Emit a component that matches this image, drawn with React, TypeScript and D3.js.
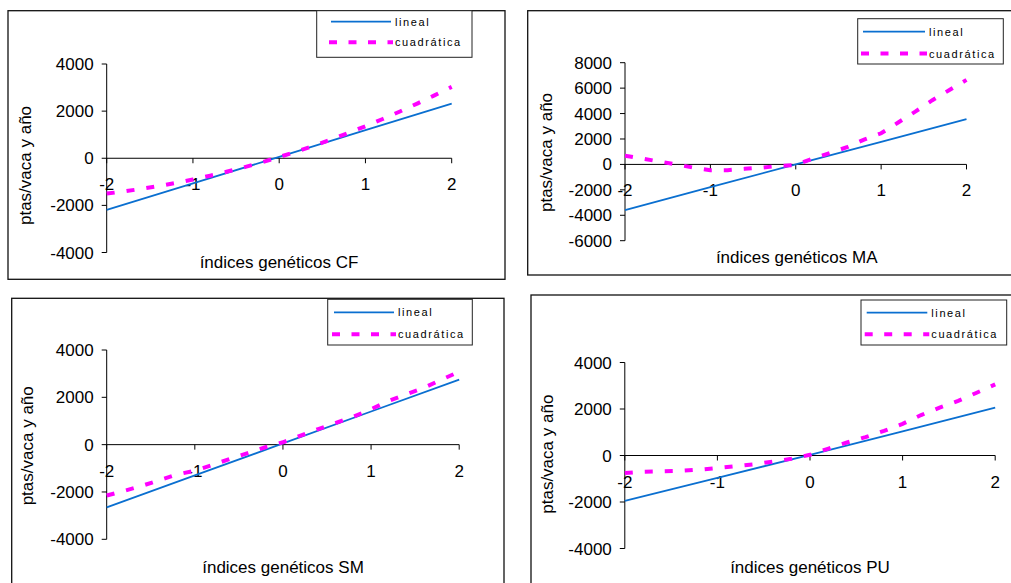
import React from 'react'
import * as d3 from 'd3'

// x positions of the two series
const xsLinear = [-2, -1, 0, 1, 2]
const xsQuad = [-2, -1.8, -1.6, -1.4, -1.2, -1, -0.8, -0.6, -0.4, -0.2, 0, 0.2, 0.4, 0.6, 0.8, 1, 1.2, 1.4, 1.6, 1.8, 2]

// CF
const cfLinear = [-2190, -1065, 60, 1190, 2320]
const cfQuad = [-1500, -1410, -1300, -1185, -1050, -900, -740, -565, -375, -170, 50, 285, 530, 795, 1070, 1360, 1665, 1985, 2320, 2670, 3030]
// MA
const maLinear = [-3600, -1790, 0, 1780, 3560]
const maQuad = [680, 460, 230, 0, -250, -450, -450, -350, -250, -120, -40, 450, 900, 1350, 1950, 2450, 3300, 4150, 5050, 5850, 6650]
// SM
const smLinear = [-2650, -1300, 50, 1400, 2750]
const smQuad = [-2150, -1950, -1740, -1500, -1260, -1100, -860, -600, -360, -110, 100, 380, 660, 920, 1180, 1500, 1850, 2130, 2400, 2750, 3080]
// PU
const puLinear = [-1950, -960, 30, 1040, 2060]
const puQuad = [-750, -700, -680, -660, -610, -540, -460, -380, -260, -140, 30, 300, 560, 790, 1060, 1360, 1740, 2060, 2350, 2700, 3060]

const xTicks = [-2, -1, 0, 1, 2]
const yTicksSmall = [-4000, -2000, 0, 2000, 4000]
const yTicksMA = [-6000, -4000, -2000, 0, 2000, 4000, 6000, 8000]
const legendNames = ['lineal', 'cuadrática']
const yTitle = 'ptas/vaca y año'

const FONT = '"Liberation Sans", Arial, sans-serif'
const BLUE = '#0a6fd0'
const MAGENTA = '#ff00ff'

const panels = [
  {
    title: 'índices genéticos CF', lin: cfLinear, quad: cfQuad, yDomain: [-4000, 4000], yTicks: yTicksSmall,
    frame: [8, 10.7, 505, 279.3], xr: [106.7, 451.7], yr: [252.5, 64],
    legend: [316.7, 10.7, 472, 57.3], legY: [21.7, 42.3], legX: [331, 391],
    xLab: [279, 268], yLab: [25, 165.5]
  },
  {
    title: 'índices genéticos MA', lin: maLinear, quad: maQuad, yDomain: [-6000, 8000], yTicks: yTicksMA,
    frame: [527.7, 10.7, 1020, 275], xr: [625, 966.5], yr: [240.7, 62.7],
    legend: [857.7, 18.7, 1003.3, 64], legY: [31.7, 53.5], legX: [863, 925],
    xLab: [796.7, 263], yLab: [545.7, 152.5]
  },
  {
    title: 'índices genéticos SM', lin: smLinear, quad: smQuad, yDomain: [-4000, 4000], yTicks: yTicksSmall,
    frame: [11.7, 298.3, 504, 600], xr: [106.7, 459.2], yr: [539.3, 350],
    legend: [327.7, 299.3, 472.3, 345], legY: [312.3, 334.3], legX: [334, 394],
    xLab: [283, 573.3], yLab: [26.7, 445.8]
  },
  {
    title: 'índices genéticos PU', lin: puLinear, quad: puQuad, yDomain: [-4000, 4000], yTicks: yTicksSmall,
    frame: [531, 295, 1020, 600], xr: [624.8, 995.2], yr: [548.5, 362.5],
    legend: [861, 300, 1006.7, 345], legY: [312.7, 334.3], legX: [866.7, 927.3],
    xLab: [810, 572.7], yLab: [546.7, 454.2]
  }
]

function Panel ({ p }: { p: any }) {
  const x = d3.scaleLinear().domain([-2, 2]).range(p.xr)
  const y = d3.scaleLinear().domain(p.yDomain).range(p.yr)
  const line = d3.line<[number, number]>().x(d => x(d[0])).y(d => y(d[1]))
  const linPts = xsLinear.map((v, i) => [v, p.lin[i]] as [number, number])
  const quadPts = xsQuad.map((v, i) => [v, p.quad[i]] as [number, number])
  const [fx0, fy0, fx1, fy1] = p.frame
  const [lx0, ly0, lx1, ly1] = p.legend
  const y0 = y(0)
  return <g>
    <rect x={fx0} y={fy0} width={fx1 - fx0} height={fy1 - fy0} fill='#fff' stroke='#111' strokeWidth={1.3} />
    {/* y axis */}
    <line x1={x(-2)} x2={x(-2)} y1={y(p.yDomain[0])} y2={y(p.yDomain[1])} stroke='#000' />
    {p.yTicks.map((v: number) => <g key={v} transform={`translate(${x(-2)},${y(v)})`}>
      <line x1={-5} x2={0} y1={0} y2={0} stroke='#000' />
      <text x={-13} y={6} textAnchor='end' fontSize={17} fontFamily={FONT} fill='#000'>{v}</text>
    </g>)}
    {/* x axis */}
    <line x1={x(-2)} x2={x(2)} y1={y0} y2={y0} stroke='#000' />
    {xTicks.map(v => <g key={v} transform={`translate(${x(v)},${y0})`}>
      <line x1={0} x2={0} y1={0} y2={5} stroke='#000' />
      <text x={0} y={32} textAnchor='middle' fontSize={17} fontFamily={FONT} fill='#000'>{v}</text>
    </g>)}
    <path d={line(linPts) || ''} fill='none' stroke={BLUE} strokeWidth={1.8} />
    <path d={line(quadPts) || ''} fill='none' stroke={MAGENTA} strokeWidth={4} strokeDasharray='8,12' />
    <text x={p.xLab[0]} y={p.xLab[1]} textAnchor='middle' fontSize={17} fontFamily={FONT} fill='#000'>{p.title}</text>
    <text transform={`translate(${p.yLab[0]},${p.yLab[1]}) rotate(-90)`} dy='0.35em' textAnchor='middle' fontSize={17} fontFamily={FONT} fill='#000'>{yTitle}</text>
    {/* legend */}
    <rect x={lx0} y={ly0} width={lx1 - lx0} height={ly1 - ly0} fill='#fff' stroke='#222' strokeWidth={1} />
    <line x1={p.legX[0]} x2={p.legX[1]} y1={p.legY[0]} y2={p.legY[0]} stroke={BLUE} strokeWidth={1.8} />
    <line x1={p.legX[0] - 2} x2={p.legX[1] + 2} y1={p.legY[1]} y2={p.legY[1]} stroke={MAGENTA} strokeWidth={4} strokeDasharray='8,11.5' />
    {legendNames.map((n, i) => <text key={n} x={p.legX[1] + 4} y={p.legY[i] + 4} fontSize={11} letterSpacing={1.6} fontFamily={FONT} fill='#000'>{n}</text>)}
  </g>
}

export default function App () {
  return <svg width={1011} height={583} style={{ position: 'absolute', left: 0, top: 0, background: '#fff' }}>
    <rect x={0} y={0} width={1011} height={583} fill='#fff' />
    {panels.map(p => <Panel key={p.title} p={p} />)}
  </svg>
}
